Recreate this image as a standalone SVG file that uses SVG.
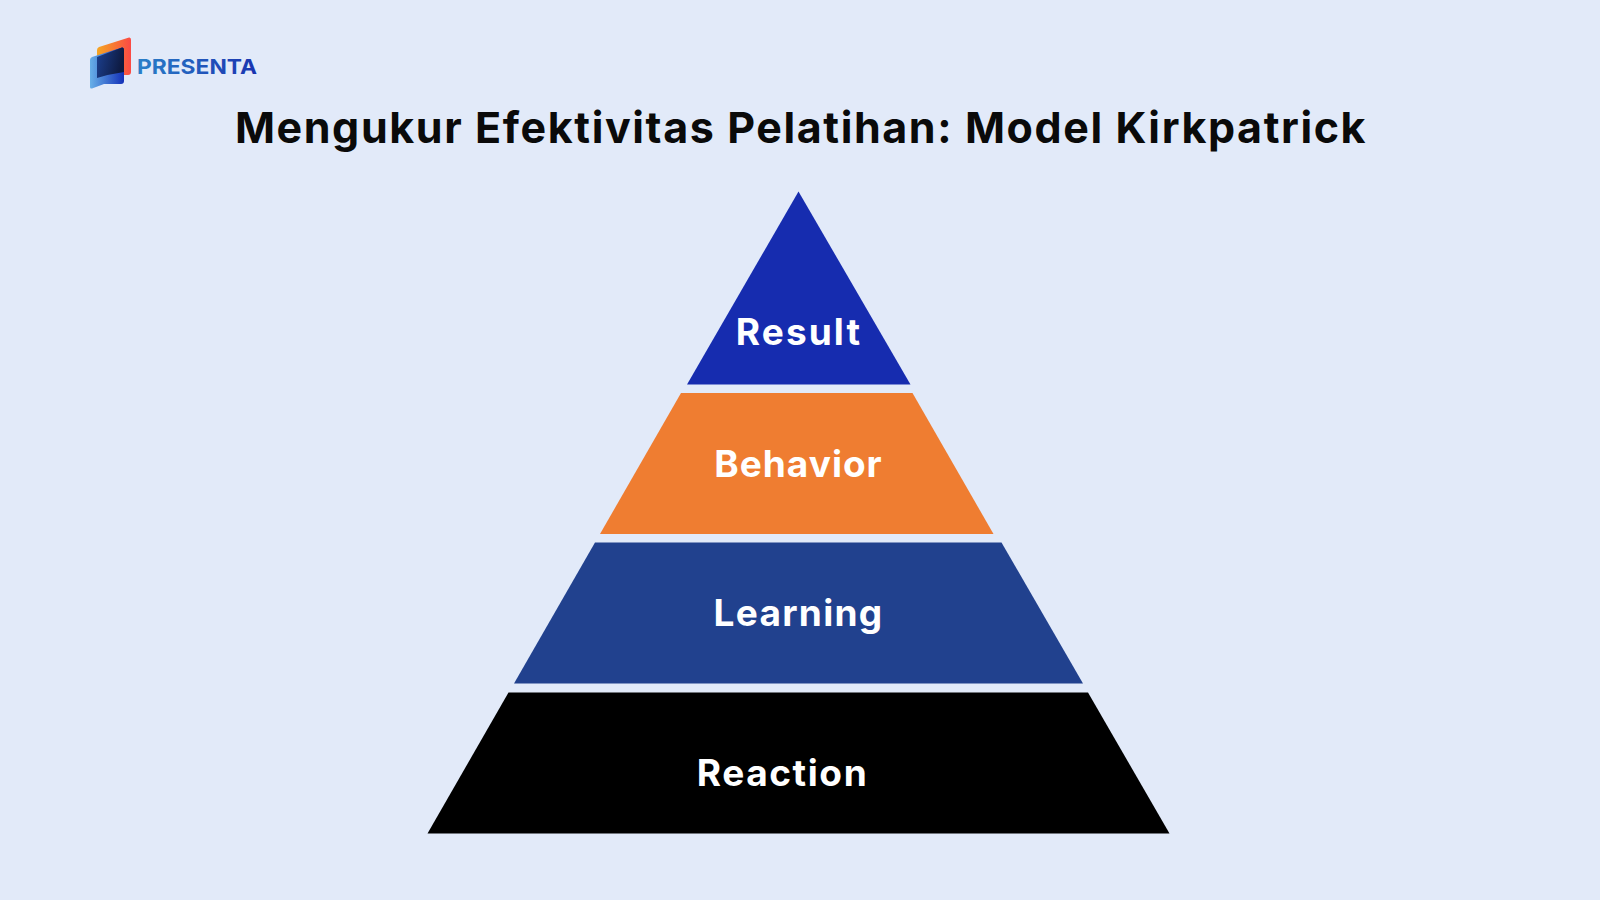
<svg xmlns="http://www.w3.org/2000/svg" width="1600" height="900" viewBox="0 0 1600 900">
<style>
.t{font-family:Inter,"Liberation Sans",sans-serif;font-weight:700;text-anchor:middle}
.l{fill:#fff;font-size:37px;letter-spacing:1.2px}
</style>
<defs>
<linearGradient id="a" x1="0" y1="0" x2="1" y2="0"><stop offset="0" stop-color="#f5a623"/><stop offset="1" stop-color="#fb4a45"/></linearGradient>
<linearGradient id="b" x1="0" y1="0" x2="1" y2="0"><stop offset="0" stop-color="#68b0e8"/><stop offset="1" stop-color="#1330b8"/></linearGradient>
<linearGradient id="c" x1="0" y1="0" x2="1" y2="0.25"><stop offset="0" stop-color="#1c4090"/><stop offset="1" stop-color="#0e1a40"/></linearGradient>
<linearGradient id="d" x1="0" y1="0" x2="1" y2="0"><stop offset="0" stop-color="#2a80c8"/><stop offset="1" stop-color="#1a33b0"/></linearGradient>
</defs>
<rect width="1600" height="900" fill="#e2eaf9"/>
<g id="logo">
<path d="M97 50Q97 48 99 47L129 37.500Q131 37 131 40V72Q131 75 128 75H97Z" fill="url(#a)"/>
<path d="M90 60Q90 58 92 57L122 47.500Q124 47 124 50V81Q124 84 121 84H104L92 88.500Q90 89 90 87Z" fill="url(#b)"/>
<path d="M97 57 122 47.500Q124 47 124 50V72Q110 74 97 78Z" fill="url(#c)"/>
<text x="137" y="74" style="font-family:Inter,'Liberation Sans',sans-serif;font-weight:700;font-size:20.500px" fill="url(#d)" textLength="120" lengthAdjust="spacingAndGlyphs">PRESENTA</text>
</g>
<text id="title" class="t" x="801" y="143" font-size="43" letter-spacing="1.6" fill="#0a0a0a">Mengukur Efektivitas Pelatihan: Model Kirkpatrick</text>
<g id="result"><path d="M798.500 191.500 910.500 384.500H687Z" fill="#162caf"/><text class="t l" x="799" y="345" style="letter-spacing:2.1px">Result</text></g>
<g id="behavior"><path d="M681 393H912.500L993.500 534H600Z" fill="#ef7d31"/><text class="t l" x="798.500" y="477" style="letter-spacing:1px">Behavior</text></g>
<g id="learning"><path d="M595 542.500H1001.500L1083 683.500H514Z" fill="#21418e"/><text class="t l" x="798.500" y="626" style="letter-spacing:1.3px">Learning</text></g>
<g id="reaction"><path d="M508.500 692.500H1088L1169.500 833.500H427.500Z" fill="#000"/><text class="t l" x="782.500" y="786" style="letter-spacing:1.6px">Reaction</text></g>
</svg>
